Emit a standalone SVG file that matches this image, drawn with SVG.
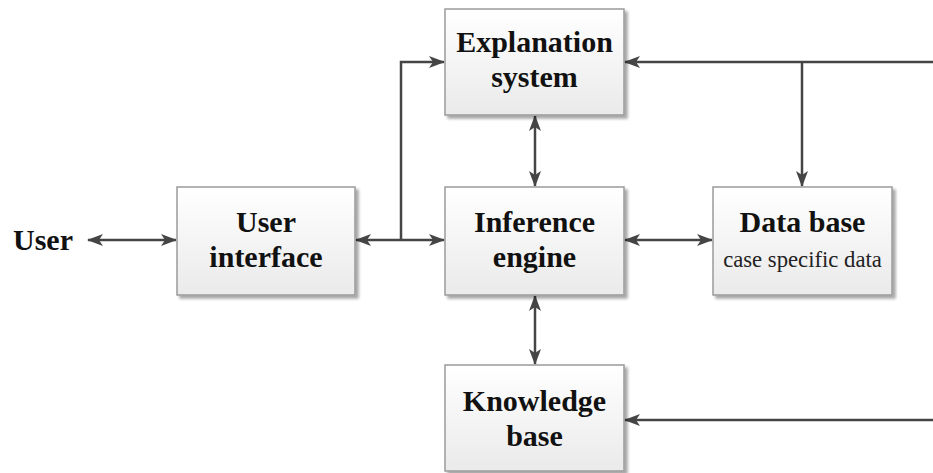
<svg xmlns="http://www.w3.org/2000/svg" width="933" height="473" viewBox="0 0 933 473">
  <style>
    .box { fill: url(#boxFill); stroke: #9a9a9a; stroke-width: 1.5; filter: url(#shadow); }
    .title { font-family: "Liberation Serif", "Times New Roman", serif; font-weight: bold; font-size: 30px; fill: #111; text-anchor: middle; }
    .sub { font-family: "Liberation Serif", "Times New Roman", serif; font-size: 22.7px; fill: #222; text-anchor: middle; }
    .wire { fill: none; stroke: #454545; stroke-width: 2.5; }
  </style>
  <defs>
    <linearGradient id="boxFill" x1="0" y1="0" x2="0" y2="1">
      <stop offset="0" stop-color="#ffffff"/>
      <stop offset="1" stop-color="#eaeaea"/>
    </linearGradient>
    <filter id="shadow" x="-10%" y="-10%" width="125%" height="125%">
      <feGaussianBlur in="SourceAlpha" stdDeviation="1.5"/>
      <feOffset dx="3" dy="3" result="off"/>
      <feComponentTransfer><feFuncA type="linear" slope="0.35"/></feComponentTransfer>
      <feMerge><feMergeNode/><feMergeNode in="SourceGraphic"/></feMerge>
    </filter>
    <marker id="arrow" viewBox="0 0 16 12" refX="15" refY="6" markerWidth="16" markerHeight="12" markerUnits="userSpaceOnUse" orient="auto-start-reverse">
      <path d="M0,0 L16,6 L0,12 L4,6 Z" fill="#454545"/>
    </marker>
  </defs>

  <rect width="933" height="473" fill="#ffffff"/>

  <!-- connectors -->
  <g id="connectors">
    <line class="wire" x1="88" y1="240" x2="176" y2="240" marker-start="url(#arrow)" marker-end="url(#arrow)"/>
    <line class="wire" x1="356" y1="240" x2="444" y2="240" marker-start="url(#arrow)" marker-end="url(#arrow)"/>
    <polyline class="wire" points="401,240 401,62 444,62" marker-end="url(#arrow)"/>
    <line class="wire" x1="535" y1="116" x2="535" y2="186" marker-start="url(#arrow)" marker-end="url(#arrow)"/>
    <line class="wire" x1="535" y1="296" x2="535" y2="364" marker-start="url(#arrow)" marker-end="url(#arrow)"/>
    <line class="wire" x1="625" y1="240" x2="712" y2="240" marker-start="url(#arrow)" marker-end="url(#arrow)"/>
    <line class="wire" x1="933" y1="62" x2="625" y2="62" marker-end="url(#arrow)"/>
    <line class="wire" x1="802" y1="62" x2="802" y2="186" marker-end="url(#arrow)"/>
    <line class="wire" x1="933" y1="420" x2="625" y2="420" marker-end="url(#arrow)"/>
  </g>

  <!-- user -->
  <g id="user">
    <text class="title" x="43" y="250">User</text>
  </g>

  <g id="user-interface">
    <rect class="box" x="177" y="187" width="178" height="108"/>
    <text class="title" x="266" y="232">User</text>
    <text class="title" x="266" y="267">interface</text>
  </g>

  <g id="explanation-system">
    <rect class="box" x="445" y="9" width="179" height="106"/>
    <text class="title" x="534.5" y="52">Explanation</text>
    <text class="title" x="534.5" y="87">system</text>
  </g>

  <g id="inference-engine">
    <rect class="box" x="445" y="187" width="179" height="108"/>
    <text class="title" x="534.5" y="232">Inference</text>
    <text class="title" x="534.5" y="267">engine</text>
  </g>

  <g id="data-base">
    <rect class="box" x="713" y="187" width="179" height="108"/>
    <text class="title" x="802.5" y="232">Data base</text>
    <text class="sub" x="802.5" y="267">case specific data</text>
  </g>

  <g id="knowledge-base">
    <rect class="box" x="445" y="365" width="179" height="106"/>
    <text class="title" x="534.5" y="411">Knowledge</text>
    <text class="title" x="534.5" y="446">base</text>
  </g>
</svg>
